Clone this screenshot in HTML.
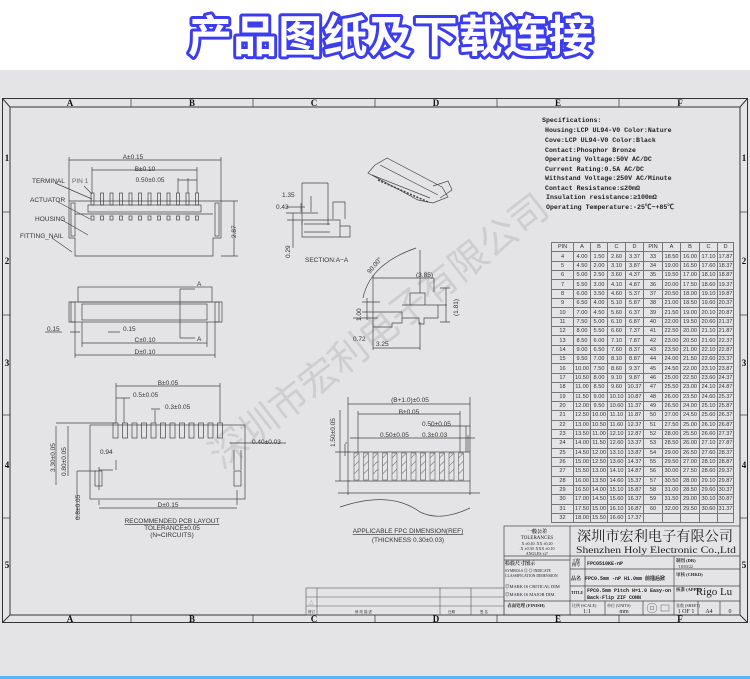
<!DOCTYPE html>
<html><head><meta charset="utf-8"><style>
html,body{margin:0;padding:0;width:750px;height:679px;overflow:hidden;background:#e4e4e6}
#top{position:absolute;left:0;top:0;width:750px;height:70px;background:#fff}
svg{position:absolute;left:0;top:0}
table{position:absolute;left:551px;top:242px;width:182px;border-collapse:collapse;table-layout:fixed;font-family:"Liberation Sans",sans-serif;font-size:5.6px;color:#333}
td{border:0.6px solid #777;height:8.35px;padding:0;text-align:center;line-height:8px;overflow:hidden;white-space:nowrap}
</style></head><body>
<div id="top"></div>
<svg width="750" height="679" viewBox="0 0 750 679" font-family="Liberation Sans, sans-serif">
<text x="188" y="52" textLength="405" lengthAdjust="spacing" font-family="Noto Sans CJK SC, WenQuanYi Zen Hei, sans-serif" font-weight="bold" font-size="44" fill="#fff" stroke="#3d3df0" stroke-width="6" paint-order="stroke" stroke-linejoin="round">产品图纸及下载连接</text>
<rect x="0" y="676" width="750" height="3" fill="#5ab4f0"/>
<g fill="none" stroke="#333">
<rect x="2.5" y="98.5" width="745" height="524" stroke-width="1"/>
<rect x="10" y="107" width="730" height="508" stroke-width="1"/>
<line x1="2.5" y1="98.5" x2="10" y2="107"/><line x1="747.5" y1="98.5" x2="740" y2="107"/>
<line x1="2.5" y1="622.5" x2="10" y2="615"/><line x1="747.5" y1="622.5" x2="740" y2="615"/>
<g stroke-width="0.7">
<line x1="131" y1="98" x2="131" y2="107"/><line x1="253" y1="98" x2="253" y2="107"/><line x1="375" y1="98" x2="375" y2="107"/><line x1="497" y1="98" x2="497" y2="107"/><line x1="619" y1="98" x2="619" y2="107"/>
<line x1="131" y1="615" x2="131" y2="623"/><line x1="253" y1="615" x2="253" y2="623"/><line x1="375" y1="615" x2="375" y2="623"/><line x1="497" y1="615" x2="497" y2="623"/><line x1="619" y1="615" x2="619" y2="623"/>
<line x1="2" y1="212" x2="10" y2="212"/><line x1="2" y1="315" x2="10" y2="315"/><line x1="2" y1="415" x2="10" y2="415"/><line x1="2" y1="518" x2="10" y2="518"/>
<line x1="740" y1="212" x2="748" y2="212"/><line x1="740" y1="315" x2="748" y2="315"/><line x1="740" y1="415" x2="748" y2="415"/><line x1="740" y1="518" x2="748" y2="518"/>
</g></g>
<g font-family="Liberation Serif, serif" font-weight="bold" font-size="9" fill="#111" text-anchor="middle">
<text x="70" y="106">A</text><text x="192" y="106">B</text><text x="314" y="106">C</text><text x="436" y="106">D</text><text x="558" y="106">E</text><text x="680" y="106">F</text>
<text x="70" y="622">A</text><text x="192" y="622">B</text><text x="314" y="622">C</text><text x="436" y="622">D</text><text x="558" y="622">E</text><text x="680" y="622">F</text>
<text x="7" y="161">1</text><text x="7" y="264">2</text><text x="7" y="366">3</text><text x="7" y="468">4</text><text x="7" y="568">5</text>
<text x="744" y="161">1</text><text x="744" y="264">2</text><text x="744" y="366">3</text><text x="744" y="468">4</text><text x="744" y="568">5</text>
</g>
<text x="0" y="0" transform="translate(222,470) rotate(-38)" font-family="Noto Sans CJK SC, sans-serif" font-size="38" fill="#c9c9cb" opacity="0.8">深圳市宏利电子有限公司</text>

<g fill="none" stroke="#444" stroke-width="0.7">
<path d="M69 201 H221 V238 H213 V256 H75 V238 H69 Z"/>
<rect x="71" y="203" width="4" height="33"/><rect x="215" y="203" width="4" height="33"/>
<rect x="88" y="205" width="113" height="7"/>
<line x1="75" y1="214" x2="213" y2="214"/>
<g>
<rect x="91" y="193" width="3" height="12"/><rect x="100.5" y="193" width="3" height="12"/><rect x="110" y="193" width="3" height="12"/><rect x="119.5" y="193" width="3" height="12"/><rect x="129" y="193" width="3" height="12"/><rect x="138.5" y="193" width="3" height="12"/><rect x="148" y="193" width="3" height="12"/><rect x="157.5" y="193" width="3" height="12"/><rect x="167" y="193" width="3" height="12"/><rect x="176.5" y="193" width="3" height="12"/><rect x="186" y="193" width="3" height="12"/><rect x="195.5" y="193" width="3" height="12"/>
<rect x="91" y="216" width="3" height="4"/><rect x="100.5" y="216" width="3" height="4"/><rect x="110" y="216" width="3" height="4"/><rect x="119.5" y="216" width="3" height="4"/><rect x="129" y="216" width="3" height="4"/><rect x="138.5" y="216" width="3" height="4"/><rect x="148" y="216" width="3" height="4"/><rect x="157.5" y="216" width="3" height="4"/><rect x="167" y="216" width="3" height="4"/><rect x="176.5" y="216" width="3" height="4"/><rect x="186" y="216" width="3" height="4"/><rect x="195.5" y="216" width="3" height="4"/>
</g>
<path d="M69 201 V157 M221 201 V157 M69 160 H221 M92 193 V167 M197 193 V167 M92 170 H197 M178 180 H197 M178 193 V178 M188 193 V178 M221 201 H238 M221 256 H238 M234 201 V256"/>
<path d="M55 183 L92 199 M58 202 L90 219 M62 220 L88 235 M52 238 L72 252 M84 186 L92 194"/>
<rect x="78" y="287" width="134" height="15"/>
<rect x="69" y="302" width="153" height="20"/><rect x="82" y="304" width="125" height="16"/>
<rect x="71" y="302" width="4" height="20"/><rect x="215" y="302" width="4" height="20"/>
<path d="M82 322 V347 M207 322 V347 M82 343 H207 M75 322 V358 M215 322 V358 M75 355 H215 M180 289 V338 M180 289 H195 M180 338 H195 M70 332 H80 M108 332 H120 M45 332 H62"/>
<path d="M301 212 V203 M311 212 V196 M293 213 V248 M286 213 H318 M286 207 H305 M302 183 H328 M302 183 V225 M328 183 V225 M287 220 H301"/>
<path d="M302 220 H340 V237 H302 Z M333 219 V202 H345 V219 M340 226 H350 V237 H340 M304 224 H330 M304 232 H330"/>
<path d="M375 165 L387 158 L442 187 L448 197 L433 203 L418 200 L368 173 Z M372 175 L430 198 M380 165 L438 195 M433 186 L448 181 L452 190 L440 198"/>
<path d="M378 180 L428 202" stroke-dasharray="2 1.5" stroke-width="1.6"/>
<path d="M373 312 H402 V323 H392 V327 H373 Z M402 305 H438 V318 H424 V324 H419 V318 H402 M410 305 V293 H425 V305 M438 305 H447 M373 275 V312 M420 250 V293 M373 278 H434 M434 278 V292 M446 288 V322 M440 288 H450 M440 322 H450 M373 318 V350 M420 322 V350 M373 348 H420 M362 312 H375 M362 302 H380 M367 298 V320 M353 318 H378"/>
<path d="M363 298 Q370 264 416 248"/>
<rect x="90" y="425" width="155" height="74"/>
<g>
<rect x="113" y="423" width="5" height="15"/><rect x="122.5" y="423" width="5" height="15"/><rect x="132" y="423" width="5" height="15"/><rect x="141.5" y="423" width="5" height="15"/><rect x="151" y="423" width="5" height="15"/><rect x="160.5" y="423" width="5" height="15"/><rect x="170" y="423" width="5" height="15"/><rect x="179.5" y="423" width="5" height="15"/><rect x="189" y="423" width="5" height="15"/><rect x="198.5" y="423" width="5" height="15"/><rect x="208" y="423" width="5" height="15"/><rect x="217.5" y="423" width="5" height="15"/>
<rect x="95" y="471" width="7" height="15"/><rect x="234" y="471" width="7" height="15"/>
</g>
<path d="M116 423 V383 M220 423 V383 M116 386 H220 M116 398 H130 M124 398 V423 M151 409 H160 M155 410 V423 M56 423 H116 M68 423 H90 M56 426 V485 M68 426 V476 M77 471 H96 M77 471 V520 M99 467 V490 M99 470 H113 M116 470 V460 M99 505 V500 M237 490 V505 M99 508 H237 M234 450 V470 M241 450 V470 M230 443 H286"/>
<rect x="348" y="452" width="122" height="29"/>
<path d="M348 452 V397 M470 452 V397 M348 404 H470 M358 452 V411 M460 452 V411 M358 414 H460 M430 426 H470 M466 426 V452 M468 452 V435 M350 438 H475 M335 452 H350 M335 481 H350 M340 410 V481 M345 444 V456 M347 443 H345 M348 481 V495 M470 481 V495 M338 493 H480 M340 507 Q390 490 420 512 Q440 522 470 508"/>
<g stroke-width="0.5">
<rect x="354" y="453" width="5" height="27"/><rect x="363.5" y="453" width="5" height="27"/><rect x="373" y="453" width="5" height="27"/><rect x="382.5" y="453" width="5" height="27"/><rect x="392" y="453" width="5" height="27"/><rect x="401.5" y="453" width="5" height="27"/><rect x="411" y="453" width="5" height="27"/><rect x="420.5" y="453" width="5" height="27"/><rect x="430" y="453" width="5" height="27"/><rect x="439.5" y="453" width="5" height="27"/><rect x="449" y="453" width="5" height="27"/><rect x="458.5" y="453" width="5" height="27"/>
</g>
</g>
<g stroke="#777" stroke-width="0.6">
<path d="M354 458 l5 -5 M354 466 l5 -5 M354 474 l5 -5 M363.5 458 l5 -5 M363.5 466 l5 -5 M363.5 474 l5 -5 M373 458 l5 -5 M373 466 l5 -5 M373 474 l5 -5 M382.5 458 l5 -5 M382.5 466 l5 -5 M382.5 474 l5 -5 M392 458 l5 -5 M392 466 l5 -5 M392 474 l5 -5 M401.5 458 l5 -5 M401.5 466 l5 -5 M401.5 474 l5 -5 M411 458 l5 -5 M411 466 l5 -5 M411 474 l5 -5 M420.5 458 l5 -5 M420.5 466 l5 -5 M420.5 474 l5 -5 M430 458 l5 -5 M430 466 l5 -5 M430 474 l5 -5 M439.5 458 l5 -5 M439.5 466 l5 -5 M439.5 474 l5 -5 M449 458 l5 -5 M449 466 l5 -5 M449 474 l5 -5 M458.5 458 l5 -5 M458.5 466 l5 -5 M458.5 474 l5 -5"/>
</g>
<g font-size="6.5" fill="#333">
<text x="32" y="183">TERMINAL</text><text x="30" y="202">ACTUATOR</text><text x="35" y="221">HOUSING</text><text x="20" y="238">FITTING_NAIL</text>
<text x="72" y="183" fill="#666">PIN  1</text>
<text x="133" y="159" text-anchor="middle">A±0.15</text><text x="145" y="171" text-anchor="middle">B±0.10</text><text x="150" y="182" text-anchor="middle">0.50±0.05</text>
<text x="236" y="238" transform="rotate(-90 236 238)">2.87</text>
<text x="197" y="286">A</text><text x="197" y="341">A</text>
<text x="47" y="331">0.15</text><text x="123" y="331">0.15</text>
<text x="145" y="342" text-anchor="middle">C±0.10</text><text x="145" y="354" text-anchor="middle">D±0.10</text>
<text x="282" y="197">1.35</text><text x="276" y="209">0.43</text>
<text x="290" y="258" transform="rotate(-90 290 258)">0.29</text>
<text x="305" y="262">SECTION:A−A</text>
<text x="416" y="277">(3.85)</text><text x="376" y="346">3.25</text><text x="353" y="341">0.72</text>
<text x="361" y="321" transform="rotate(-90 361 321)">1.00</text>
<text x="458" y="316" transform="rotate(-90 458 316)">(1.81)</text>
<text x="370" y="274" transform="rotate(-50 370 274)">90.00°</text>
<text x="168" y="385" text-anchor="middle">B±0.05</text><text x="133" y="397">0.5±0.05</text><text x="165" y="409">0.3±0.05</text>
<text x="252" y="444">0.40±0.03</text><text x="100" y="454">0.94</text>
<text x="168" y="507" text-anchor="middle">D±0.15</text>
<text x="55" y="472" transform="rotate(-90 55 472)">3.30±0.05</text>
<text x="66" y="476" transform="rotate(-90 66 476)">0.80±0.05</text>
<text x="80" y="520" transform="rotate(-90 80 520)">0.8±0.05</text>
<text x="172" y="523" text-anchor="middle" text-decoration="underline">RECOMMENDED  PCB  LAYOUT</text>
<text x="172" y="530" text-anchor="middle">TOLERANCE±0.05</text><text x="172" y="537" text-anchor="middle">(N=CIRCUITS)</text>
<text x="410" y="402" text-anchor="middle">(B+1.0)±0.05</text><text x="409" y="414" text-anchor="middle">B±0.05</text>
<text x="422" y="426">0.50±0.05</text><text x="380" y="437">0.50±0.05</text><text x="422" y="437">0.3±0.03</text>
<text x="335" y="447" transform="rotate(-90 335 447)">1.50±0.05</text>
<text x="408" y="533" text-anchor="middle" text-decoration="underline">APPLICABLE  FPC  DIMENSION(REF)</text>
<text x="408" y="542" text-anchor="middle">(THICKNESS  0.30±0.03)</text>
</g>
<g font-family="Liberation Mono, Noto Sans CJK SC, monospace" font-size="6.6" fill="#222" font-weight="bold">
<text x="542" y="122">Specifications:</text>
<text x="545" y="132">Housing:LCP UL94-V0 Color:Nature</text>
<text x="545" y="142">Cove:LCP UL94-V0 Color:Black</text>
<text x="545" y="152">Contact:Phosphor Bronze</text>
<text x="545" y="161">Operating Voltage:50V AC/DC</text>
<text x="545" y="171">Current Rating:0.5A AC/DC</text>
<text x="545" y="180">Withstand Voltage:250V AC/Minute</text>
<text x="545" y="190">Contact Resistance:≤20mΩ</text>
<text x="546" y="199">Insulation resistance:≥100mΩ</text>
<text x="546" y="209">Operating Temperature:-25℃~+85℃</text>
</g>
<g fill="none" stroke="#555" stroke-width="0.6">
<rect x="306" y="588" width="198" height="27"/>
<path d="M306 597 H504 M306 606 H504 M317 588 V615 M440 588 V615 M471 588 V615"/>
</g>
<g font-size="3.5" fill="#333"><text x="308" y="613">修订</text><text x="355" y="613">修 改 描 述</text><text x="448" y="613">日期</text><text x="480" y="613">签 名</text><text x="309" y="604" font-size="6" fill="#999">△</text></g>
<g fill="none" stroke="#444" stroke-width="0.7">
<rect x="504" y="526" width="236" height="89"/>
<path d="M570 526 V615 M504 556 H740 M570 569 H740 M570 586 H740 M504 601 H740 M585 556 V601 M674 556 V615 M605 601 V615 M643 601 V615 M698 601 V615 M720 601 V615 M504 560 H570"/>
</g>
<g fill="#222" font-family="Liberation Serif, Noto Serif CJK SC, serif">
<text x="537" y="533" font-size="5" text-anchor="middle" font-weight="bold">一般公差</text>
<text x="537" y="539" font-size="5" text-anchor="middle">TOLERANCES</text>
<text x="537" y="545" font-size="4" text-anchor="middle">X ±0.40  .XX ±0.20</text>
<text x="537" y="550" font-size="4" text-anchor="middle">.X ±0.30  .XXX ±0.10</text>
<text x="537" y="555" font-size="4" text-anchor="middle">ANGLES    ±2°</text>
<text x="577" y="541" font-size="14" textLength="156" lengthAdjust="spacingAndGlyphs" font-family="Noto Serif CJK SC, serif">深圳市宏利电子有限公司</text>
<text x="576" y="553" font-size="9" textLength="160" lengthAdjust="spacingAndGlyphs">Shenzhen Holy Electronic Co.,Ltd</text>
<text x="505" y="565" font-size="5" font-weight="bold">检验尺寸图示</text>
<text x="505" y="572" font-size="3.8">SYMBOLS ◎ ◎ INDICATE</text>
<text x="505" y="577" font-size="3.8">CLASSIFICATION  DIMENSION</text>
<text x="505" y="588" font-size="4.5">◎MARK IS CRITICAL DIM</text>
<text x="505" y="596" font-size="4.5">◎MARK IS MAJOR DIM.</text>
<text x="507" y="607" font-size="4.5" font-weight="bold">表面处理 (FINISH)</text>
<text x="572" y="562" font-size="4" font-weight="bold">工程</text><text x="572" y="566" font-size="4" font-weight="bold">图号</text>
<text x="587" y="565" font-size="5" font-family="Liberation Mono, monospace" font-weight="bold">FPC0510KE-nP</text>
<text x="571" y="580" font-size="5" font-weight="bold">品名</text>
<text x="585" y="580" font-size="5" font-family="Liberation Mono, Noto Sans CJK SC, monospace" font-weight="bold">FPC0.5mm -nP H1.0mm 前插后掀</text>
<text x="571" y="594" font-size="4" font-weight="bold">TITLE</text>
<text x="587" y="592" font-size="5" font-family="Liberation Mono, monospace" font-weight="bold">FPC0.5mm Pitch H=1.0 Easy-on</text>
<text x="587" y="599" font-size="5" font-family="Liberation Mono, monospace" font-weight="bold">Back-Flip ZIF CONN</text>
<text x="676" y="562" font-size="4.5" font-weight="bold">制图 (DR)</text><text x="678" y="568" font-size="4">'18/03/22</text>
<text x="676" y="576" font-size="4.5" font-weight="bold">审核 (CHKD)</text>
<text x="676" y="591" font-size="4.5" font-weight="bold">核准 (APPD)</text>
<text x="714" y="595" font-size="11" text-anchor="middle">Rigo Lu</text>
<text x="572" y="607" font-size="4">比例 (SCALE)</text><text x="587" y="613" font-size="6" text-anchor="middle">1:1</text>
<text x="607" y="607" font-size="4">单位 (UNITS)</text><text x="624" y="613" font-size="6" text-anchor="middle">mm</text>
<text x="676" y="607" font-size="4">张数 (SHEET)</text><text x="686" y="613" font-size="6" text-anchor="middle">1 OF 1</text>
<text x="709" y="613" font-size="6" text-anchor="middle">A4</text><text x="730" y="613" font-size="6" text-anchor="middle">0</text>
</g>
<g fill="none" stroke="#666" stroke-width="0.5"><circle cx="652" cy="608" r="5"/><circle cx="652" cy="608" r="2"/><rect x="661" y="605" width="8" height="6"/></g>
</svg>
<table>
<colgroup><col style="width:22px"><col style="width:17px"><col style="width:17px"><col style="width:18px"><col style="width:18px"><col style="width:19px"><col style="width:18px"><col style="width:19px"><col style="width:18px"><col style="width:16px"></colgroup>
<tr><td>PIN</td><td>A</td><td>B</td><td>C</td><td>D</td><td>PIN</td><td>A</td><td>B</td><td>C</td><td>D</td></tr>
<tr><td>4</td><td>4.00</td><td>1.50</td><td>2.60</td><td>3.37</td><td>33</td><td>18.50</td><td>16.00</td><td>17.10</td><td>17.87</td></tr>
<tr><td>5</td><td>4.50</td><td>2.00</td><td>3.10</td><td>3.87</td><td>34</td><td>19.00</td><td>16.50</td><td>17.60</td><td>18.37</td></tr>
<tr><td>6</td><td>5.00</td><td>2.50</td><td>3.60</td><td>4.37</td><td>35</td><td>19.50</td><td>17.00</td><td>18.10</td><td>18.87</td></tr>
<tr><td>7</td><td>5.50</td><td>3.00</td><td>4.10</td><td>4.87</td><td>36</td><td>20.00</td><td>17.50</td><td>18.60</td><td>19.37</td></tr>
<tr><td>8</td><td>6.00</td><td>3.50</td><td>4.60</td><td>5.37</td><td>37</td><td>20.50</td><td>18.00</td><td>19.10</td><td>19.87</td></tr>
<tr><td>9</td><td>6.50</td><td>4.00</td><td>5.10</td><td>5.87</td><td>38</td><td>21.00</td><td>18.50</td><td>19.60</td><td>20.37</td></tr>
<tr><td>10</td><td>7.00</td><td>4.50</td><td>5.60</td><td>6.37</td><td>39</td><td>21.50</td><td>19.00</td><td>20.10</td><td>20.87</td></tr>
<tr><td>11</td><td>7.50</td><td>5.00</td><td>6.10</td><td>6.87</td><td>40</td><td>22.00</td><td>19.50</td><td>20.60</td><td>21.37</td></tr>
<tr><td>12</td><td>8.00</td><td>5.50</td><td>6.60</td><td>7.37</td><td>41</td><td>22.50</td><td>20.00</td><td>21.10</td><td>21.87</td></tr>
<tr><td>13</td><td>8.50</td><td>6.00</td><td>7.10</td><td>7.87</td><td>42</td><td>23.00</td><td>20.50</td><td>21.60</td><td>22.37</td></tr>
<tr><td>14</td><td>9.00</td><td>6.50</td><td>7.60</td><td>8.37</td><td>43</td><td>23.50</td><td>21.00</td><td>22.10</td><td>22.87</td></tr>
<tr><td>15</td><td>9.50</td><td>7.00</td><td>8.10</td><td>8.87</td><td>44</td><td>24.00</td><td>21.50</td><td>22.60</td><td>23.37</td></tr>
<tr><td>16</td><td>10.00</td><td>7.50</td><td>8.60</td><td>9.37</td><td>45</td><td>24.50</td><td>22.00</td><td>23.10</td><td>23.87</td></tr>
<tr><td>17</td><td>10.50</td><td>8.00</td><td>9.10</td><td>9.87</td><td>46</td><td>25.00</td><td>22.50</td><td>23.60</td><td>24.37</td></tr>
<tr><td>18</td><td>11.00</td><td>8.50</td><td>9.60</td><td>10.37</td><td>47</td><td>25.50</td><td>23.00</td><td>24.10</td><td>24.87</td></tr>
<tr><td>19</td><td>11.50</td><td>9.00</td><td>10.10</td><td>10.87</td><td>48</td><td>26.00</td><td>23.50</td><td>24.60</td><td>25.37</td></tr>
<tr><td>20</td><td>12.00</td><td>9.50</td><td>10.60</td><td>11.37</td><td>49</td><td>26.50</td><td>24.00</td><td>25.10</td><td>25.87</td></tr>
<tr><td>21</td><td>12.50</td><td>10.00</td><td>11.10</td><td>11.87</td><td>50</td><td>27.00</td><td>24.50</td><td>25.60</td><td>26.37</td></tr>
<tr><td>22</td><td>13.00</td><td>10.50</td><td>11.60</td><td>12.37</td><td>51</td><td>27.50</td><td>25.00</td><td>26.10</td><td>26.87</td></tr>
<tr><td>23</td><td>13.50</td><td>11.00</td><td>12.10</td><td>12.87</td><td>52</td><td>28.00</td><td>25.50</td><td>26.60</td><td>27.37</td></tr>
<tr><td>24</td><td>14.00</td><td>11.50</td><td>12.60</td><td>13.37</td><td>53</td><td>28.50</td><td>26.00</td><td>27.10</td><td>27.87</td></tr>
<tr><td>25</td><td>14.50</td><td>12.00</td><td>13.10</td><td>13.87</td><td>54</td><td>29.00</td><td>26.50</td><td>27.60</td><td>28.37</td></tr>
<tr><td>26</td><td>15.00</td><td>12.50</td><td>13.60</td><td>14.37</td><td>55</td><td>29.50</td><td>27.00</td><td>28.10</td><td>28.87</td></tr>
<tr><td>27</td><td>15.50</td><td>13.00</td><td>14.10</td><td>14.87</td><td>56</td><td>30.00</td><td>27.50</td><td>28.60</td><td>29.37</td></tr>
<tr><td>28</td><td>16.00</td><td>13.50</td><td>14.60</td><td>15.37</td><td>57</td><td>30.50</td><td>28.00</td><td>29.10</td><td>29.87</td></tr>
<tr><td>29</td><td>16.50</td><td>14.00</td><td>15.10</td><td>15.87</td><td>58</td><td>31.00</td><td>28.50</td><td>29.60</td><td>30.37</td></tr>
<tr><td>30</td><td>17.00</td><td>14.50</td><td>15.60</td><td>16.37</td><td>59</td><td>31.50</td><td>29.00</td><td>30.10</td><td>30.87</td></tr>
<tr><td>31</td><td>17.50</td><td>15.00</td><td>16.10</td><td>16.87</td><td>60</td><td>32.00</td><td>29.50</td><td>30.60</td><td>31.37</td></tr>
<tr><td>32</td><td>18.00</td><td>15.50</td><td>16.60</td><td>17.37</td><td></td><td></td><td></td><td></td><td></td></tr>
</table>
</body></html>
